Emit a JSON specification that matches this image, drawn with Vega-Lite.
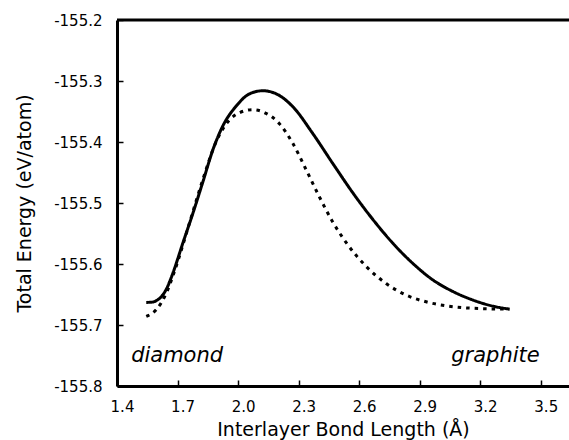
{
  "$schema": "https://vega.github.io/schema/vega-lite/v6.json",
  "width": 452,
  "height": 366,
  "autosize": {"type": "none"},
  "padding": {"left": 117, "top": 20, "right": 0, "bottom": 54},
  "background": "white",
  "config": {
    "view": {"stroke": null},
    "font": "DejaVu Sans",
    "axis": {"grid": false, "domainColor": "black", "domainWidth": 3, "tickColor": "black", "tickWidth": 1.5, "labelColor": "black", "titleColor": "black", "labelFont": "DejaVu Sans", "titleFont": "DejaVu Sans", "labelFontSize": 15, "titleFontSize": 19, "titleFontWeight": "normal"}
  },
  "datasets": {
    "curves": [
      {"x": 1.545, "energy": -155.663, "series": "A"},
      {"x": 1.575, "energy": -155.6625, "series": "A"},
      {"x": 1.600, "energy": -155.659, "series": "A"},
      {"x": 1.620, "energy": -155.6535, "series": "A"},
      {"x": 1.645, "energy": -155.641, "series": "A"},
      {"x": 1.677, "energy": -155.615, "series": "A"},
      {"x": 1.726, "energy": -155.566, "series": "A"},
      {"x": 1.776, "energy": -155.517, "series": "A"},
      {"x": 1.825, "energy": -155.466, "series": "A"},
      {"x": 1.875, "energy": -155.413, "series": "A"},
      {"x": 1.924, "energy": -155.374, "series": "A"},
      {"x": 1.991, "energy": -155.341, "series": "A"},
      {"x": 2.057, "energy": -155.321, "series": "A"},
      {"x": 2.123, "energy": -155.316, "series": "A"},
      {"x": 2.189, "energy": -155.321, "series": "A"},
      {"x": 2.271, "energy": -155.342, "series": "A"},
      {"x": 2.370, "energy": -155.386, "series": "A"},
      {"x": 2.469, "energy": -155.435, "series": "A"},
      {"x": 2.568, "energy": -155.483, "series": "A"},
      {"x": 2.668, "energy": -155.527, "series": "A"},
      {"x": 2.767, "energy": -155.566, "series": "A"},
      {"x": 2.866, "energy": -155.599, "series": "A"},
      {"x": 2.965, "energy": -155.626, "series": "A"},
      {"x": 3.064, "energy": -155.645, "series": "A"},
      {"x": 3.163, "energy": -155.659, "series": "A"},
      {"x": 3.262, "energy": -155.669, "series": "A"},
      {"x": 3.345, "energy": -155.674, "series": "A"},
      {"x": 1.545, "energy": -155.686, "series": "B"},
      {"x": 1.594, "energy": -155.675, "series": "B"},
      {"x": 1.644, "energy": -155.648, "series": "B"},
      {"x": 1.693, "energy": -155.604, "series": "B"},
      {"x": 1.759, "energy": -155.533, "series": "B"},
      {"x": 1.825, "energy": -155.462, "series": "B"},
      {"x": 1.892, "energy": -155.399, "series": "B"},
      {"x": 1.957, "energy": -155.364, "series": "B"},
      {"x": 2.007, "energy": -155.352, "series": "B"},
      {"x": 2.073, "energy": -155.347, "series": "B"},
      {"x": 2.139, "energy": -155.353, "series": "B"},
      {"x": 2.205, "energy": -155.370, "series": "B"},
      {"x": 2.271, "energy": -155.402, "series": "B"},
      {"x": 2.338, "energy": -155.446, "series": "B"},
      {"x": 2.403, "energy": -155.490, "series": "B"},
      {"x": 2.469, "energy": -155.531, "series": "B"},
      {"x": 2.536, "energy": -155.565, "series": "B"},
      {"x": 2.635, "energy": -155.604, "series": "B"},
      {"x": 2.734, "energy": -155.632, "series": "B"},
      {"x": 2.833, "energy": -155.651, "series": "B"},
      {"x": 2.932, "energy": -155.662, "series": "B"},
      {"x": 3.064, "energy": -155.670, "series": "B"},
      {"x": 3.196, "energy": -155.673, "series": "B"},
      {"x": 3.345, "energy": -155.674, "series": "B"}
    ],
    "labels": [
      {"label": "diamond", "x": 1.47, "energy": -155.75},
      {"label": "graphite", "x": 3.495, "energy": -155.75}
    ],
    "frame": [
      {"energy": -155.2}
    ]
  },
  "layer": [
    {
      "data": {"name": "frame"},
      "mark": {"type": "rule", "color": "black", "strokeWidth": 3},
      "encoding": {"y": {"field": "energy", "type": "quantitative"}}
    },
    {
      "data": {"name": "curves"},
      "mark": {"type": "line", "color": "black", "strokeWidth": 3, "interpolate": "monotone", "strokeCap": "butt"},
      "encoding": {
        "x": {
          "field": "x", "type": "quantitative",
          "scale": {"domain": [1.4, 3.64], "nice": false, "zero": false},
          "axis": {
            "title": "Interlayer Bond Length (Å)",
            "values": [1.4, 1.55, 1.7, 1.85, 2.0, 2.15, 2.3, 2.45, 2.6, 2.75, 2.9, 3.05, 3.2, 3.35, 3.5],
            "labelExpr": "abs((datum.value - 1.4)/0.3 - round((datum.value - 1.4)/0.3)) < 0.01 ? format(datum.value, '.1f') : ''",
            "tickSize": -6,
            "labelPadding": 19,
            "labelOffset": 5,
            "labelFlush": false,
            "labelOverlap": false,
            "titlePadding": 6
          }
        },
        "y": {
          "field": "energy", "type": "quantitative",
          "scale": {"domain": [-155.8, -155.2], "nice": false, "zero": false},
          "axis": {
            "title": "Total Energy (eV/atom)",
            "values": [-155.8, -155.75, -155.7, -155.65, -155.6, -155.55, -155.5, -155.45, -155.4, -155.35, -155.3, -155.25, -155.2],
            "labelExpr": "abs(datum.value*10 - round(datum.value*10)) < 0.01 ? '-' + format(abs(datum.value), '.1f') : ''",
            "tickSize": -6,
            "labelPadding": 21,
            "labelFlush": false,
            "labelOverlap": false,
            "titlePadding": 19
          }
        },
        "strokeDash": {
          "field": "series", "type": "nominal",
          "scale": {"domain": ["A", "B"], "range": [[1, 0], [3.5, 5]]},
          "legend": null
        }
      }
    },
    {
      "data": {"name": "labels"},
      "transform": [{"filter": "datum.label === 'diamond'"}],
      "mark": {"type": "text", "font": "DejaVu Sans", "fontSize": 21, "fontStyle": "italic", "color": "black", "baseline": "middle", "align": "left"},
      "encoding": {
        "x": {"field": "x", "type": "quantitative"},
        "y": {"field": "energy", "type": "quantitative"},
        "text": {"field": "label"}
      }
    },
    {
      "data": {"name": "labels"},
      "transform": [{"filter": "datum.label === 'graphite'"}],
      "mark": {"type": "text", "font": "DejaVu Sans", "fontSize": 21, "fontStyle": "italic", "color": "black", "baseline": "middle", "align": "right"},
      "encoding": {
        "x": {"field": "x", "type": "quantitative"},
        "y": {"field": "energy", "type": "quantitative"},
        "text": {"field": "label"}
      }
    }
  ]
}
